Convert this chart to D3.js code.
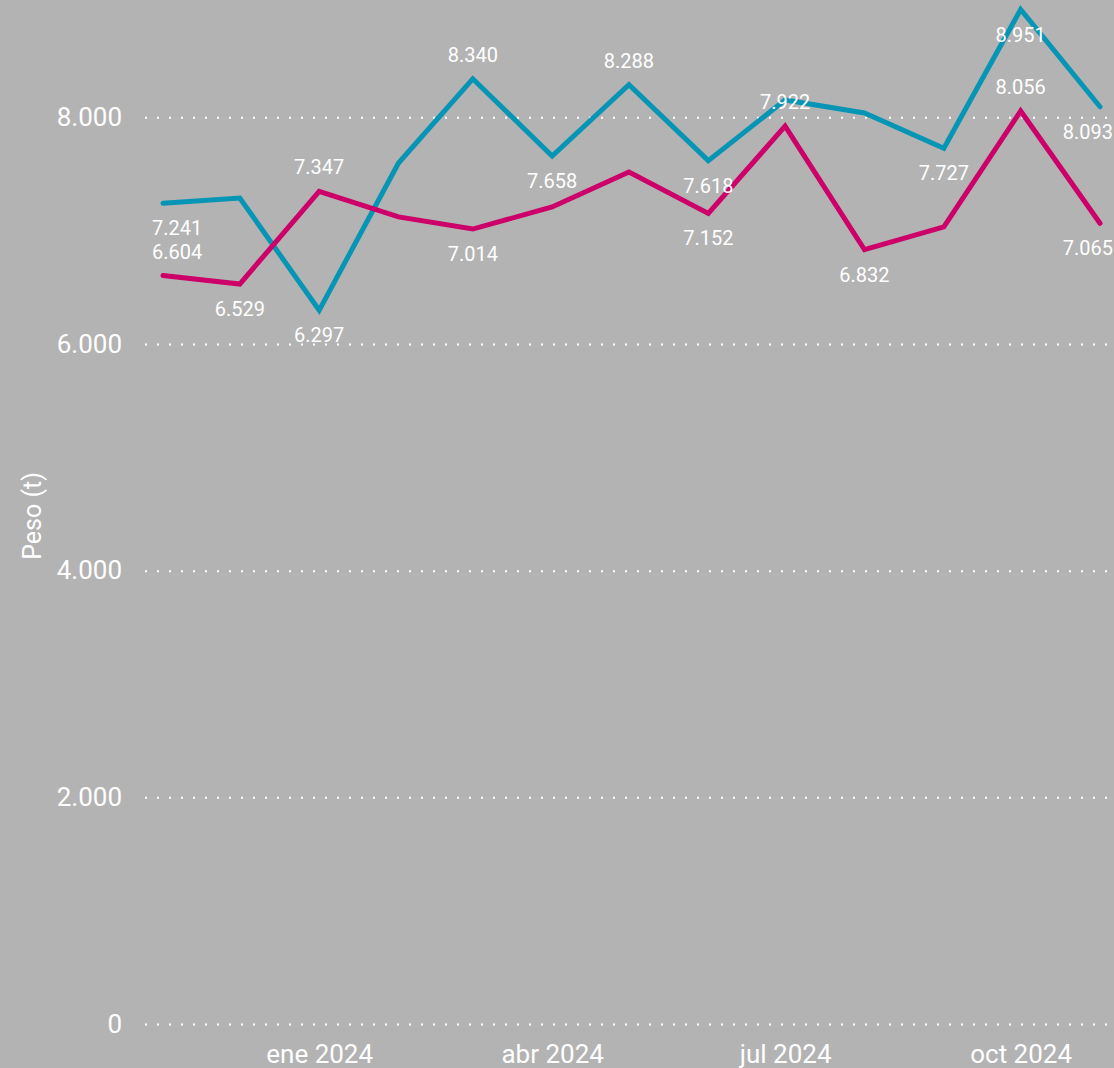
<!DOCTYPE html>
<html>
<head>
<meta charset="utf-8">
<script src="https://cdn.jsdelivr.net/npm/d3@7"></script>
<style>
  html, body { margin: 0; padding: 0; background: #b3b3b3; }
  svg { display: block; font-family: Roboto, "DejaVu Sans", sans-serif; }
  .grid line { stroke: #fff; stroke-width: 2; stroke-dasharray: 2 10; }
  .tick text { fill: #fff; }
</style>
</head>
<body>
<svg id="chart" width="1114" height="1068"></svg>
<script>
// Monthly weight (t), nov 2023 .. nov 2024
const months = ['2023-11', '2023-12', '2024-01', '2024-02', '2024-03', '2024-04', '2024-05',
                '2024-06', '2024-07', '2024-08', '2024-09', '2024-10', '2024-11'];
const blueValues = [7241, 7288, 6297, 7597, 8340, 7658, 8288, 7618, 8153, 8038, 7727, 8951, 8093];
const magentaValues = [6604, 6529, 7347, 7121, 7014, 7209, 7518, 7152, 7922, 6832, 7033, 8056, 7065];
// which data labels are shown: 'a' above, 'b' below, '' none
const blueLabels = ['b', '', 'b', '', 'a', 'b', 'a', 'b', '', '', 'b', 'b', 'b'];
const magentaLabels = ['a', 'b', 'a', '', 'b', '', '', 'b', 'a', 'b', '', 'a', 'b'];
const yTicks = [0, 2000, 4000, 6000, 8000];
const xTicks = ['2024-01', '2024-04', '2024-07', '2024-10'];

const es = d3.formatLocale({ decimal: ',', thousands: '.', grouping: [3], currency: ['', ' €'] });
const fmt = es.format(',d');
const esTime = d3.timeFormatLocale({
  dateTime: '%A, %e de %B de %Y, %X', date: '%d/%m/%Y', time: '%H:%M:%S',
  periods: ['AM', 'PM'],
  days: ['domingo', 'lunes', 'martes', 'miércoles', 'jueves', 'viernes', 'sábado'],
  shortDays: ['dom', 'lun', 'mar', 'mié', 'jue', 'vie', 'sáb'],
  months: ['enero', 'febrero', 'marzo', 'abril', 'mayo', 'junio', 'julio', 'agosto',
           'septiembre', 'octubre', 'noviembre', 'diciembre'],
  shortMonths: ['ene', 'feb', 'mar', 'abr', 'may', 'jun', 'jul', 'ago', 'sept', 'oct', 'nov', 'dic'],
});
const parse = d3.timeParse('%Y-%m');
const dates = months.map(parse);

const svg = d3.select('#chart');
const plotLeft = 145, plotRight = 1108;

const x = d3.scaleTime().domain([dates[0], dates[dates.length - 1]]).range([163, 1100]);
const y = d3.scaleLinear().domain([0, 8000]).range([1024, 117.3]);

// y grid + tick labels
const yAxis = svg.append('g').attr('class', 'grid')
  .attr('transform', `translate(${plotLeft},0)`)
  .call(d3.axisLeft(y).tickValues(yTicks).tickFormat(fmt)
    .tickSize(-(plotRight - plotLeft)).tickPadding(23));
yAxis.attr('font-family', null).attr('font-size', 26);
yAxis.select('.domain').remove();

// x axis labels
const xAxis = svg.append('g')
  .attr('transform', 'translate(0,1045)')
  .call(d3.axisBottom(x).tickValues(xTicks.map(parse)).tickFormat(esTime.format('%b %Y'))
    .tickSize(0).tickPadding(0));
xAxis.attr('font-family', null).attr('font-size', 26);
xAxis.select('.domain').remove();
xAxis.selectAll('.tick text').attr('dy', '0.71em');

svg.append('text')
  .attr('transform', 'translate(41,516) rotate(-90)')
  .attr('text-anchor', 'middle')
  .attr('fill', '#fff').style('font-size', '25px')
  .text('Peso (t)');

const line = d3.line().x((d, i) => x(dates[i])).y(d => y(d));

const series = [
  { values: blueValues, labels: blueLabels, color: '#0795b5' },
  { values: magentaValues, labels: magentaLabels, color: '#cc0068' },
];

series.forEach(s => {
  svg.append('path')
    .datum(s.values)
    .attr('fill', 'none')
    .attr('stroke', s.color)
    .attr('stroke-width', 5)
    .attr('stroke-linejoin', 'miter')
    .attr('stroke-linecap', 'round')
    .attr('d', line);
});

const labelLayer = svg.append('g');
series.forEach(s => {
  s.values.forEach((v, i) => {
    const pos = s.labels[i];
    if (!pos) return;
    const t = labelLayer.append('text')
      .attr('fill', '#fff')
      .attr('text-anchor', 'middle')
      .attr('dominant-baseline', 'central')
      .style('font-size', '20px')
      .attr('y', y(v) + (pos === 'a' ? -24 : 25))
      .text(fmt(v));
    const w = t.node().getComputedTextLength();
    const cx = Math.max(152 + w / 2, Math.min(1113 - w / 2, x(dates[i])));
    t.attr('x', cx);
  });
});
</script>
</body>
</html>
